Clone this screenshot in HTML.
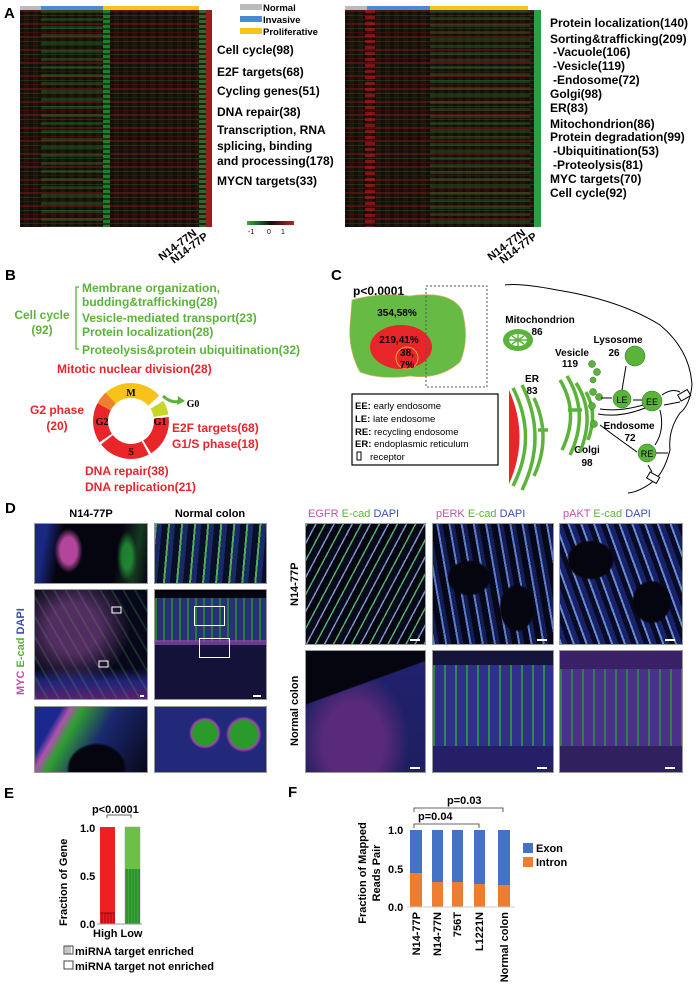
<!DOCTYPE html>
<html><head><meta charset="utf-8"><style>
html,body{margin:0;padding:0;background:#fff;}
body{width:700px;height:1002px;position:relative;overflow:hidden;font-family:"Liberation Sans",Arial,sans-serif;}
.abs{position:absolute;}
.hm{position:absolute;background-color:#1e150e;
background-image:repeating-linear-gradient(180deg,rgba(150,20,20,.45) 0 2px,transparent 2px 5px,rgba(30,120,40,.35) 5px 6px,transparent 6px 9px,rgba(120,15,15,.4) 9px 10px,transparent 10px 13px),
repeating-linear-gradient(90deg,rgba(0,0,0,.35) 0 4px,transparent 4px 9px);}
.img{position:absolute;background:#050510;overflow:hidden;border:1px solid #999;box-sizing:border-box;}
</style></head><body>

<!-- Heatmaps -->
<div class="hm" style="left:20px;top:10px;width:192px;height:217px;"></div>
<div class="abs" style="left:41px;top:10px;width:62px;height:217px;background:repeating-linear-gradient(180deg,rgba(40,140,50,.3) 0 3px,transparent 3px 8px);"></div>
<div class="abs" style="left:103px;top:10px;width:7px;height:217px;background:repeating-linear-gradient(180deg,#1f7d2a 0 3px,#163a18 3px 5px);"></div>
<div class="abs" style="left:199px;top:10px;width:7px;height:217px;background:repeating-linear-gradient(180deg,#2a6a2a 0 3px,#221 3px 5px);"></div>
<div class="abs" style="left:206px;top:10px;width:6px;height:217px;background:#9b1c1c;"></div>

<div class="hm" style="left:345px;top:10px;width:189px;height:217px;"></div>
<div class="abs" style="left:365px;top:10px;width:10px;height:217px;background:repeating-linear-gradient(180deg,rgba(190,25,25,.6) 0 3px,transparent 3px 6px);"></div>
<div class="abs" style="left:430px;top:10px;width:100px;height:217px;background:repeating-linear-gradient(180deg,rgba(40,130,45,.3) 0 3px,transparent 3px 7px);"></div>
<div class="abs" style="left:534px;top:10px;width:7px;height:217px;background:#2aa040;"></div>

<!-- Panel D images -->
<div class="img" style="left:34px;top:523px;width:114px;height:61px;background:radial-gradient(ellipse 14px 22px at 30% 45%,rgba(210,80,180,.85) 0 60%,transparent 100%),radial-gradient(ellipse 10px 25px at 82% 55%,rgba(40,170,60,.7) 0 50%,transparent 100%),linear-gradient(100deg,#1a2880 0 10%,#050510 24%,#050510 72%,#143a20 88%,#050510 100%);"></div>
<div class="img" style="left:154px;top:523px;width:113px;height:61px;background:repeating-linear-gradient(95deg,rgba(40,150,40,.8) 0 2px,#1a2a68 2px 7px,#0a0f28 7px 13px);"></div>
<div class="img" style="left:34px;top:589px;width:114px;height:111px;background:radial-gradient(ellipse at 35% 35%,rgba(170,90,180,.45) 0 25%,transparent 55%),repeating-linear-gradient(60deg,rgba(60,160,90,.25) 0 2px,transparent 2px 10px),linear-gradient(180deg,#08081a 0 72%,#22237a 84%,#5a2070 100%);"></div>
<div class="img" style="left:154px;top:589px;width:113px;height:111px;background:#141440;">
<div class="abs" style="left:0;top:0;width:113px;height:8px;background:#050510;"></div>
<div class="abs" style="left:0;top:8px;width:113px;height:44px;background:repeating-linear-gradient(90deg,rgba(40,150,50,.8) 0 2px,#28307a 2px 8px);"></div>
<div class="abs" style="left:0;top:50px;width:113px;height:5px;background:#9048a8;opacity:.7"></div>
<div class="abs" style="left:0;top:55px;width:113px;height:56px;background:#141238;"></div>
<div class="abs" style="left:39px;top:16px;width:29px;height:18px;border:1px solid #fff;"></div>
<div class="abs" style="left:44px;top:48px;width:29px;height:18px;border:1px solid #fff;"></div></div>
<div class="img" style="left:34px;top:706px;width:114px;height:67px;background:radial-gradient(ellipse 30px 26px at 55% 95%,#050510 0 90%,transparent 100%),linear-gradient(120deg,#1a2890 0 18%,#b050b0 24%,#30a030 32%,#1a2870 55%,#080818 100%);"></div>
<div class="img" style="left:154px;top:706px;width:113px;height:67px;background:radial-gradient(circle 16px at 45% 40%,#2a9a2a 0 75%,#a048a8 85%,transparent 100%),radial-gradient(circle 18px at 80% 42%,#2a9a2a 0 75%,#a048a8 85%,transparent 100%),#22287a;"></div>

<div class="img" style="left:305px;top:523px;width:121px;height:122px;background:repeating-linear-gradient(118deg,rgba(30,140,70,.75) 0 1.5px,#070a18 1.5px 8px,rgba(40,70,160,.6) 8px 9.5px,#050510 9.5px 16px);"></div>
<div class="img" style="left:432px;top:523px;width:122px;height:122px;background:radial-gradient(ellipse 22px 18px at 30% 45%,#050510 0 90%,transparent 100%),radial-gradient(ellipse 18px 24px at 70% 70%,#050510 0 90%,transparent 100%),repeating-linear-gradient(80deg,rgba(50,90,190,.8) 0 2px,#141e55 2px 6px,#06081a 6px 12px);"></div>
<div class="img" style="left:559px;top:523px;width:124px;height:122px;background:radial-gradient(ellipse 24px 20px at 25% 30%,#050510 0 90%,transparent 100%),radial-gradient(ellipse 20px 22px at 75% 65%,#050510 0 90%,transparent 100%),repeating-linear-gradient(70deg,rgba(50,100,190,.75) 0 2px,#18226a 2px 7px,#080a26 7px 12px);"></div>
<div class="img" style="left:305px;top:650px;width:121px;height:123px;background:linear-gradient(160deg,#050510 0 32%,transparent 33%),radial-gradient(ellipse at 40% 75%,#5a2a7a 0 30%,transparent 55%),linear-gradient(180deg,#22226e,#1e1e62);"></div>
<div class="img" style="left:432px;top:650px;width:122px;height:123px;background:repeating-linear-gradient(90deg,rgba(40,160,60,.8) 0 2px,#30308a 2px 11px),#30308a;"><div class="abs" style="left:0;top:0;width:122px;height:14px;background:#14143a;"></div><div class="abs" style="left:0;top:95px;width:122px;height:28px;background:#241f66;"></div></div>
<div class="img" style="left:559px;top:650px;width:124px;height:123px;background:repeating-linear-gradient(90deg,rgba(40,150,60,.75) 0 2px,#4a3088 2px 11px),#4a3088;"><div class="abs" style="left:0;top:0;width:124px;height:18px;background:#3a2066;"></div><div class="abs" style="left:0;top:95px;width:124px;height:28px;background:#30205e;"></div></div>

<svg class="abs" style="left:0;top:0" width="700" height="1002" font-family="Liberation Sans, Arial, sans-serif">
<g font-weight="bold" fill="#000">
<!-- A -->
<text x="4" y="18" font-size="15">A</text>
<rect x="20" y="6" width="21" height="4" fill="#bbb"/><rect x="41" y="6" width="62" height="4" fill="#4a8ad0"/><rect x="103" y="6" width="96" height="4" fill="#f7c318"/>
<rect x="345" y="6" width="22" height="4" fill="#bbb"/><rect x="367" y="6" width="63" height="4" fill="#4a8ad0"/><rect x="430" y="6" width="98" height="4" fill="#f7c318"/>
<rect x="240" y="4" width="22" height="6" fill="#bbb"/><text x="263" y="11" font-size="9.5">Normal</text>
<rect x="240" y="16" width="22" height="6" fill="#4a8ad0"/><text x="263" y="23" font-size="9.5">Invasive</text>
<rect x="240" y="28" width="22" height="6" fill="#f7c318"/><text x="263" y="35" font-size="9.5">Proliferative</text>
<g font-size="12">
<text x="217" y="54">Cell cycle(98)</text>
<text x="217" y="76">E2F targets(68)</text>
<text x="217" y="95">Cycling genes(51)</text>
<text x="217" y="116">DNA repair(38)</text>
<text x="217" y="134">Transcription, RNA</text>
<text x="217" y="150">splicing, binding</text>
<text x="217" y="165">and processing(178)</text>
<text x="217" y="185">MYCN targets(33)</text>
<text x="550" y="27">Protein localization(140)</text>
<text x="550" y="43">Sorting&amp;trafficking(209)</text>
<text x="553" y="56">-Vacuole(106)</text>
<text x="553" y="70">-Vesicle(119)</text>
<text x="553" y="84">-Endosome(72)</text>
<text x="550" y="98">Golgi(98)</text>
<text x="550" y="112">ER(83)</text>
<text x="550" y="128">Mitochondrion(86)</text>
<text x="550" y="141">Protein degradation(99)</text>
<text x="553" y="155">-Ubiquitination(53)</text>
<text x="553" y="169">-Proteolysis(81)</text>
<text x="550" y="183">MYC targets(70)</text>
<text x="550" y="197">Cell cycle(92)</text>
</g>
<defs><linearGradient id="cb"><stop offset="0" stop-color="#2fb040"/><stop offset=".5" stop-color="#111"/><stop offset="1" stop-color="#c02020"/></linearGradient></defs>
<rect x="247" y="221" width="47" height="4" fill="url(#cb)"/>
<text x="248" y="234" font-size="7" font-weight="normal">-1</text><text x="267" y="234" font-size="7" font-weight="normal">0</text><text x="281" y="234" font-size="7" font-weight="normal">1</text>
<g font-size="11">
<text transform="translate(162,261) rotate(-37)">N14-77N</text>
<text transform="translate(174,264) rotate(-37)">N14-77P</text>
<text transform="translate(491,261) rotate(-37)">N14-77N</text>
<text transform="translate(503,264) rotate(-37)">N14-77P</text>
</g>

<!-- B -->
<text x="5" y="280" font-size="15">B</text>
<g fill="#5bb33a" font-size="12">
<text x="42" y="319" text-anchor="middle">Cell cycle</text>
<text x="42" y="334" text-anchor="middle">(92)</text>
<text x="82" y="292">Membrane organization,</text>
<text x="82" y="306">budding&amp;trafficking(28)</text>
<text x="82" y="322">Vesicle-mediated transport(23)</text>
<text x="82" y="336">Protein localization(28)</text>
<text x="82" y="354">Proteolysis&amp;protein ubiquitination(32)</text>
</g>
<path d="M79,287 H76 V349 H79" stroke="#5bb33a" stroke-width="1.3" fill="none"/>
<g fill="#e8262a" font-size="12">
<text x="57" y="373">Mitotic nuclear division(28)</text>
<text x="57" y="414" text-anchor="middle">G2 phase</text>
<text x="57" y="430" text-anchor="middle">(20)</text>
<text x="172" y="432">E2F targets(68)</text>
<text x="172" y="448">G1/S phase(18)</text>
<text x="85" y="475">DNA repair(38)</text>
<text x="85" y="491">DNA replication(21)</text>
</g>
<g fill="none" stroke-width="15">
<path d="M108.3,400.6 A30.5,30.5 0 0 1 153.7,400.6" stroke="#f7c21a"/>
<path d="M156.9,404.8 A30.5,30.5 0 0 1 161,415.7" stroke="#c8d62a"/>
<path d="M161.3,417.8 A30.5,30.5 0 0 1 147.2,446.9" stroke="#e8262a"/>
<path d="M145.3,447.9 A30.5,30.5 0 0 1 107,439.8" stroke="#e8262a"/>
<path d="M105.7,438.1 A30.5,30.5 0 0 1 104.1,406.7" stroke="#e8262a"/>
<path d="M104.1,406.7 A30.5,30.5 0 0 1 110.6,398.3" stroke="#f08030"/>
</g>
<g font-family="Liberation Serif, serif" font-size="10" font-weight="bold" text-anchor="middle">
<text x="131" y="396">M</text><text x="102" y="425">G2</text><text x="160" y="425">G1</text><text x="131" y="455">S</text>
<text x="193" y="407">G0</text></g>
<path d="M163,396 Q172,404 180,401" stroke="#5bb33a" stroke-width="3" fill="none"/>
<path d="M178,396 L185,401 L177,405 Z" fill="#5bb33a"/>

<!-- C -->
<text x="331" y="280" font-size="15">C</text>
<text x="353" y="295" font-size="12">p&lt;0.0001</text>
<path d="M352,300 Q380,292 410,296 Q450,290 462,310 Q470,340 460,362 Q440,380 410,376 Q380,380 360,372 Q348,350 350,325 Z" fill="#66bb44" stroke="#d8b060" stroke-width=".7"/>
<ellipse cx="401" cy="347" rx="31" ry="22" fill="#e8262a"/>
<circle cx="407" cy="358" r="11" fill="none" stroke="#e8a040" stroke-width="1"/>
<g font-size="10" text-anchor="middle">
<text x="397" y="316">354,58%</text><text x="399" y="343">219,41%</text><text x="407" y="356">38,</text><text x="407" y="368">7%</text></g>
<rect x="426" y="286" width="61" height="101" fill="none" stroke="#555" stroke-dasharray="2,2" stroke-width="1"/>
<rect x="352" y="394" width="146" height="71" fill="#fff" stroke="#000" stroke-width="1.2"/>
<g font-size="9.5" font-weight="normal">
<text x="355" y="409"><tspan font-weight="bold">EE:</tspan> early endosome</text>
<text x="355" y="422"><tspan font-weight="bold">LE:</tspan> late endosome</text>
<text x="355" y="435"><tspan font-weight="bold">RE:</tspan> recycling endosome</text>
<text x="355" y="447"><tspan font-weight="bold">ER:</tspan> endoplasmic reticulum</text>
<text x="370" y="460">receptor</text></g>
<rect x="357" y="452" width="4" height="8" fill="none" stroke="#000"/>
<g font-size="10" text-anchor="middle">
<text x="540" y="323">Mitochondrion</text><text x="537" y="335">86</text>
<text x="618" y="343">Lysosome</text><text x="614" y="356">26</text>
<text x="572" y="356">Vesicle</text><text x="570" y="367">119</text>
<text x="532" y="382">ER</text><text x="532" y="394">83</text>
<text x="587" y="453">Golgi</text><text x="587" y="466">98</text>
<text x="629" y="429">Endosome</text><text x="630" y="441">72</text></g>
<ellipse cx="518" cy="340" rx="15" ry="11" fill="#5bb33a"/>
<ellipse cx="518" cy="340" rx="9" ry="6" fill="#fff"/>
<path d="M518,334 V346 M509,340 H527 M512,336 L524,344 M512,344 L524,336" stroke="#5bb33a" stroke-width="1.5"/>
<path d="M509,390 Q530,437 509,484 Z" fill="#e8262a"/>
<g fill="none" stroke="#5bb33a" stroke-width="3.5">
<path d="M513,388 Q538,437 513,486"/><path d="M522,385 Q548,437 522,490"/><path d="M534,398 Q552,437 534,476"/><path d="M538,430 H548"/>
<path d="M560,380 Q580,413 562,450"/><path d="M567,376 Q590,413 570,455"/><path d="M576,383 Q596,413 580,452"/><path d="M586,392 Q598,413 588,440"/><path d="M568,410 H582"/>
</g>
<g fill="#5bb33a" stroke="#2a6a20" stroke-width=".5">
<circle cx="592" cy="364" r="3.5"/><circle cx="597" cy="372" r="3.5"/><circle cx="593" cy="380" r="3"/><circle cx="593" cy="392" r="3.5"/><circle cx="599" cy="397" r="3.5"/><circle cx="592" cy="406" r="3.5"/><circle cx="594" cy="424" r="3.5"/>
<circle cx="635" cy="356" r="10"/><circle cx="622" cy="399" r="9"/><circle cx="652" cy="401" r="10"/><circle cx="647" cy="453" r="9"/></g>
<g font-size="9" font-weight="normal" text-anchor="middle"><text x="622" y="403">LE</text><text x="652" y="405">EE</text><text x="647" y="457">RE</text></g>
<g fill="none" stroke="#000" stroke-width="1">
<path d="M505,285 Q520,283 557,290 Q620,300 660,325 Q690,350 692,385 Q690,405 680,413 Q668,430 670,450 Q665,470 655,480 Q640,492 628,493"/>
<path d="M622,390 L626,366"/><path d="M601,398 H612"/><path d="M642,400 H633"/>
<path d="M643,405 Q620,412 600,409"/><path d="M645,408 Q620,418 598,414"/>
<path d="M600,425 Q620,440 637,452"/><path d="M660,410 Q665,430 655,445"/><path d="M656,453 H668"/>
<path d="M662,395 Q672,388 680,392"/><path d="M680,402 L664,405"/><path d="M648,465 L652,472"/>
</g>
<rect x="679" y="392" width="11" height="7" fill="#fff" stroke="#000" transform="rotate(-30 684 396)"/>
<rect x="648" y="474" width="11" height="7" fill="#fff" stroke="#000" transform="rotate(30 653 477)"/>

<!-- D -->
<text x="5" y="513" font-size="15">D</text>
<text x="91" y="517" font-size="11" text-anchor="middle">N14-77P</text>
<text x="210" y="517" font-size="11" text-anchor="middle">Normal colon</text>
<g font-size="11" font-weight="normal">
<text x="308" y="517"><tspan fill="#c050b0">EGFR</tspan> <tspan fill="#5bb33a">E-cad</tspan> <tspan fill="#3a50b0">DAPI</tspan></text>
<text x="436" y="517"><tspan fill="#c050b0">pERK</tspan> <tspan fill="#5bb33a">E-cad</tspan> <tspan fill="#3a50b0">DAPI</tspan></text>
<text x="563" y="517"><tspan fill="#c050b0">pAKT</tspan>  <tspan fill="#5bb33a">E-cad</tspan> <tspan fill="#3a50b0">DAPI</tspan></text>
</g>
<text transform="translate(24,695) rotate(-90)" font-size="11"><tspan fill="#c050b0">MYC</tspan> <tspan fill="#5bb33a">E-cad</tspan> <tspan fill="#3a50b0">DAPI</tspan></text>
<text transform="translate(298,606) rotate(-90)" font-size="11">N14-77P</text>
<text transform="translate(298,746) rotate(-90)" font-size="11">Normal colon</text>
<g fill="none" stroke="#fff" stroke-width="1"><rect x="112" y="607" width="9" height="6"/><rect x="99" y="661" width="9" height="6"/></g>
<g fill="#fff"><rect x="140" y="695" width="4" height="2"/><rect x="253" y="695" width="8" height="2"/><rect x="410" y="639" width="10" height="2"/><rect x="537" y="639" width="10" height="2"/><rect x="665" y="639" width="10" height="2"/><rect x="410" y="767" width="10" height="2"/><rect x="537" y="767" width="10" height="2"/><rect x="665" y="767" width="10" height="2"/></g>

<!-- E -->
<text x="4" y="798" font-size="15">E</text>
<text x="92" y="813" font-size="11">p&lt;0.0001</text>
<path d="M107,818 V815 H131 V818" stroke="#333" fill="none" stroke-width=".8"/>
<rect x="100" y="827" width="15" height="97" fill="#ed2024"/>
<rect x="125" y="827" width="15" height="97" fill="#6cc04a" stroke="#999" stroke-width=".5"/>
<rect x="125" y="869" width="15" height="55" fill="#3aa83a"/>
<path d="M102,913 V924 M105,913 V924 M108,913 V924 M111,913 V924 M114,913 V924" stroke="#700" stroke-width=".7"/>
<path d="M100,913 H115" stroke="#700" stroke-width=".7"/>
<path d="M127,869 V924 M130,869 V924 M133,869 V924 M136,869 V924 M139,869 V924" stroke="#1a6a1a" stroke-width=".7"/>
<path d="M97,924 H142" stroke="#999"/>
<g font-size="11"><text x="80" y="832">1.0</text><text x="80" y="880">0.5</text><text x="80" y="928">0.0</text>
<text x="93" y="937">High Low</text></g>
<text transform="translate(67,926) rotate(-90)" font-size="11">Fraction of Gene</text>
<rect x="64" y="946" width="9" height="8" fill="#fff" stroke="#444"/><path d="M66,946 V954 M68,946 V954 M70,946 V954" stroke="#444" stroke-width=".6"/>
<rect x="64" y="961" width="9" height="8" fill="#fff" stroke="#444"/>
<text x="75" y="955" font-size="11">miRNA target enriched</text>
<text x="75" y="970" font-size="11">miRNA target not enriched</text>

<!-- F -->
<text x="288" y="797" font-size="15">F</text>
<text x="447" y="804" font-size="11">p=0.03</text>
<path d="M414,812 V808 H503 V812" stroke="#333" fill="none" stroke-width=".8"/>
<text x="418" y="820" font-size="11">p=0.04</text>
<path d="M414,828 V824 H479 V828" stroke="#333" fill="none" stroke-width=".8"/>
<g fill="#4472c4"><rect x="410" y="830" width="12" height="43"/><rect x="432" y="830" width="11" height="52"/><rect x="452" y="830" width="11" height="52"/><rect x="474" y="830" width="11" height="54"/><rect x="498" y="830" width="12" height="55"/></g>
<g fill="#ed7d31"><rect x="410" y="873" width="12" height="34"/><rect x="432" y="882" width="11" height="25"/><rect x="452" y="882" width="11" height="25"/><rect x="474" y="884" width="11" height="23"/><rect x="498" y="885" width="12" height="22"/></g>
<path d="M407,907 H515" stroke="#ccc"/>
<g font-size="11"><text x="388" y="834">1.0</text><text x="388" y="873">0.5</text><text x="388" y="911">0.0</text></g>
<text transform="translate(366,873) rotate(-90)" font-size="11" text-anchor="middle">Fraction of Mapped</text>
<text transform="translate(380,873) rotate(-90)" font-size="11" text-anchor="middle">Reads Pair</text>
<g font-size="11" text-anchor="end">
<text transform="translate(420,912) rotate(-90)">N14-77P</text>
<text transform="translate(441,912) rotate(-90)">N14-77N</text>
<text transform="translate(461,912) rotate(-90)">756T</text>
<text transform="translate(483,912) rotate(-90)">L1221N</text>
<text transform="translate(508,912) rotate(-90)">Normal colon</text></g>
<rect x="523" y="843" width="10" height="10" fill="#4472c4"/><text x="536" y="852" font-size="11">Exon</text>
<rect x="523" y="857" width="10" height="10" fill="#ed7d31"/><text x="536" y="866" font-size="11">Intron</text>
</g>
</svg>
</body></html>
